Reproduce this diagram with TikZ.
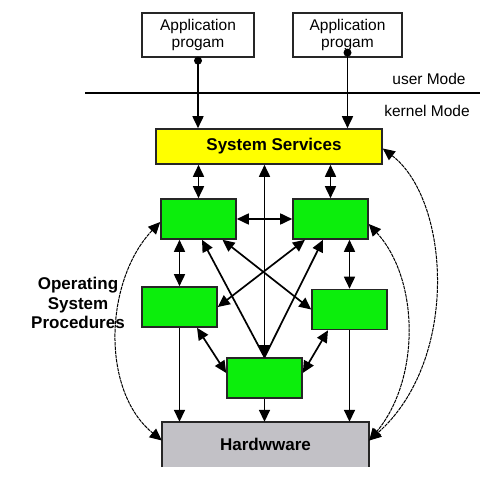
\documentclass[tikz,border=0pt]{standalone}
\usepackage{fontspec}
\setmainfont{Liberation Sans}
\usetikzlibrary{arrows.meta}

\definecolor{sysyellow}{RGB}{255,255,0}
\definecolor{procgreen}{RGB}{12,238,12}
\definecolor{hwgrey}{RGB}{194,193,198}

\begin{document}
\begin{tikzpicture}[x=1pt, y=-1pt,
  >={Triangle[length=12pt, width=11pt]},
  boxline/.style={draw=black!85, line width=1.6pt, inner sep=0pt},
  appbox/.style={boxline, line width=1.3pt, minimum height=44pt, align=center,
    font=\fontsize{15.5}{17.5}\selectfont},
  procbox/.style={boxline, fill=procgreen, minimum width=75pt, minimum height=40pt},
  boldtext/.style={font=\bfseries\fontsize{17}{19.5}\selectfont, align=center},
  modetext/.style={font=\fontsize{15.5}{17.5}\selectfont},
  link/.style={line width=1.7pt},
  callback/.style={line width=1pt, dash pattern=on 3.5pt off 0.8pt, <->}]
  \useasboundingbox (0,0) rectangle (490,481);

  % application programs
  \node[appbox, minimum width=112pt] (app1) at (198,35) {Application\\progam};
  \node[appbox, minimum width=109pt] (app2) at (347.5,35) {Application\\progam};

  % mode border
  \coordinate (border west) at (85,93);
  \coordinate (border east) at (480,93);
  \draw[line width=1.4pt] (border west) -- (border east);
  \node[modetext] (user) at (429,79) {user Mode};
  \node[modetext] (kernel) at (427,111) {kernel Mode};

  % services and procedures
  \node[boxline, fill=sysyellow, minimum width=226pt, minimum height=35pt,
    boldtext] (ss) at (269,146.5) {\hspace*{10pt}System Services};
  \node[procbox] (g1) at (198.5,219) {};
  \node[procbox] (g2) at (330.5,219) {};
  \node[procbox] (g3) at (179.5,307) {};
  \node[procbox] (g4) at (349.5,309.5) {};
  \node[procbox] (g5) at (264.5,378) {};
  \node[boldtext] (osp) at (78,303) {Operating\\System\\Procedures};

  % hardware, cut off at the bottom
  \node[fill=hwgrey, minimum width=207pt, minimum height=45pt, inner sep=0pt,
    boldtext] (hw) at (265.5,444.5) {Hardwware};
  \draw[boxline] (hw.south west) -- (hw.north west) -- (hw.north east) -- (hw.south east);

  % calls from user mode
  \coordinate (dot1) at ([yshift=-3pt]app1.south);
  \coordinate (dot2) at ([yshift=5pt]app2.south);
  \foreach \d in {dot1, dot2} {
    \fill (\d) circle (4);
    \draw[link, ->] (\d) -- (\d |- ss.north);
  }

  % straight links
  \draw[link, <->] (g1.north |- ss.south) -- (g1.north);
  \draw[link, <->] (g2.north |- ss.south) -- (g2.north);
  \draw[link, <->] (g5.north |- ss.south) -- (g5.north);
  \draw[link, <->] (g1.east) -- (g2.west);
  \draw[link, <->] (g3.north |- g1.south) -- (g3.north);
  \draw[link, <->] (g4.north |- g2.south) -- (g4.north);
  \foreach \g in {g3, g5, g4}
    \draw[link, ->] (\g.south) -- (\g.south |- hw.north);

  % crossing links
  \draw[link, <->] ([xshift=24pt]g1.south) -- (g4.west);
  \draw[link, <->] ([xshift=-25.5pt]g2.south) -- (g3.east);
  \draw[link, ->] (g5.north) -- ([xshift=3.5pt]g1.south);
  \draw[link, ->] (g5.north) -- ([xshift=-7.5pt]g2.south);
  \draw[link, <->] ([xshift=17.5pt]g3.south) -- ([yshift=5pt]g5.west);
  \draw[link, <->] ([xshift=-21.5pt]g4.south) -- ([yshift=5pt]g5.east);

  % hardware callbacks
  \draw[callback] ([yshift=-3pt]g1.west) .. controls (105,280) and (100,390) .. ([yshift=4pt]hw.west);
  \draw[callback] ([yshift=-5pt]g2.east) .. controls (420,280) and (420,380) .. ([yshift=4pt]hw.east);
  \draw[callback] ([yshift=-2pt]ss.east) .. controls (450,200) and (460,360) .. ([yshift=4pt]hw.east);
\end{tikzpicture}
\end{document}
